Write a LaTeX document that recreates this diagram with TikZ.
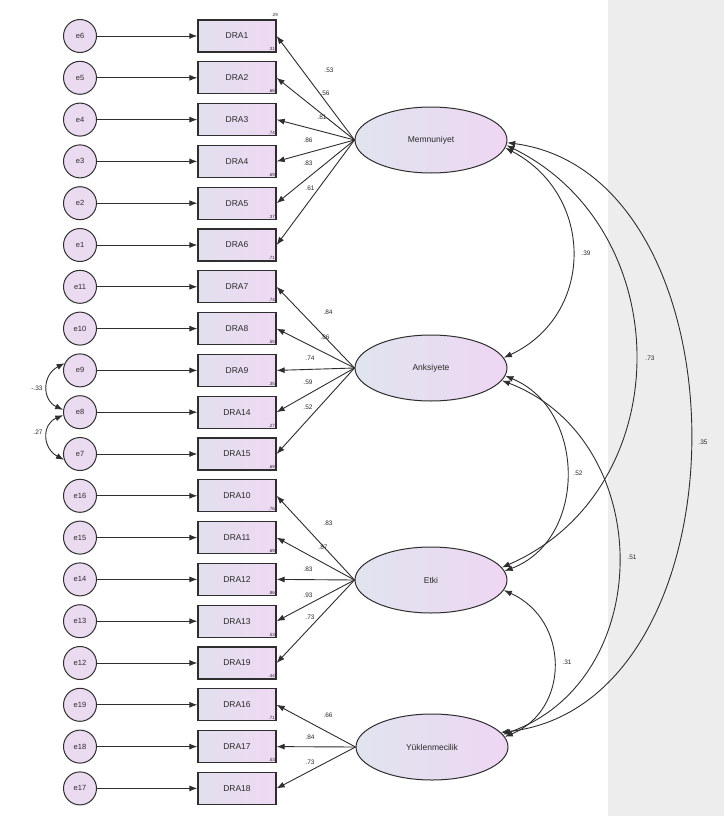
\documentclass[tikz,border=0pt]{standalone}
\usepackage{fontspec}
\setmainfont{Liberation Sans}
\usetikzlibrary{arrows.meta,shapes.geometric}
\definecolor{edgec}{HTML}{2E2E2E}
\definecolor{txt}{HTML}{2A2A2A}
\definecolor{boxL}{HTML}{E2E0EE}
\definecolor{boxR}{HTML}{EFD9F3}
\definecolor{errF}{HTML}{EBDBF1}
\definecolor{latL}{HTML}{E0E4EF}
\definecolor{latR}{HTML}{EED6F3}
\definecolor{bgGray}{HTML}{EDEDED}
\begin{document}
\begin{tikzpicture}[x=1pt,y=-1pt,
  box/.style={draw=edgec, line width=1.3pt, minimum width=78pt, minimum height=32pt, inner sep=0pt, left color=boxL, right color=boxR, font=\fontsize{8.5}{9}\selectfont, text=txt},
  err/.style={circle, draw=edgec, line width=1pt, minimum size=33pt, inner sep=0pt, fill=errF, font=\fontsize{7.5}{8}\selectfont, text=txt},
  lat/.style={ellipse, draw=edgec, line width=1pt, minimum width=152pt, minimum height=66pt, inner sep=0pt, left color=latL, right color=latR, font=\fontsize{8.5}{9}\selectfont, text=txt},
  arr/.style={draw=edgec, line width=0.9pt, -{Latex[length=8pt,width=6pt]}},
  cov/.style={draw=edgec, line width=0.9pt, {Latex[length=8pt,width=6pt]}-{Latex[length=8pt,width=6pt]}},
  lbl/.style={font=\fontsize{6.5}{7}\selectfont, inner sep=0pt, text=txt},
  rsq/.style={font=\fontsize{4.5}{5}\selectfont, inner sep=0.5pt, text=txt}]
\useasboundingbox (0,0) rectangle (724,816);
\fill[white] (0,0) rectangle (724,816);
\fill[bgGray] (608,0) rectangle (724,816);

% observed variables and their errors
\foreach \i/\e/\d in {1/e6/DRA1, 2/e5/DRA2, 3/e4/DRA3, 4/e3/DRA4, 5/e2/DRA5, 6/e1/DRA6,
  7/e11/DRA7, 8/e10/DRA8, 9/e9/DRA9, 10/e8/DRA14, 11/e7/DRA15,
  12/e16/DRA10, 13/e15/DRA11, 14/e14/DRA12, 15/e13/DRA13, 16/e12/DRA19,
  17/e19/DRA16, 18/e18/DRA17, 19/e17/DRA18}{
  \node[err] (e\i) at (80,{36+41.8*(\i-1)}) {\e};
  \node[box] (b\i) at (237,{36+41.8*(\i-1)}) {\d};
  \draw[arr] (e\i) -- (b\i);
}

% squared multiple correlations (partly hidden at box corners)
\node[rsq, anchor=south east] (r1) at ([shift={(2,-2)}]b1.north east) {.29};
\foreach \j/\v in {1/.31, 2/.66, 3/.74, 4/.69, 5/.37, 6/.71, 7/.74, 8/.55, 9/.35, 10/.27,
  11/.69, 12/.76, 13/.69, 14/.86, 15/.53, 16/.44, 17/.71, 18/.53}{
  \node[rsq, anchor=south east] (rr\j) at ([shift={(-1,-1)}]b\j.south east) {\v};
}

% latent variables
\node[lat] (M) at (431,140) {Memnuniyet};
\node[lat] (A) at (431,368) {Anksiyete};
\node[lat] (E) at (431,580) {Etki};
\node[lat] (Y) at (432,747) {Yüklenmecilik};

% loadings
\foreach \i in {1,...,6}{\draw[arr] (M.west) -- (b\i.east);}
\foreach \i in {7,...,11}{\draw[arr] (A.west) -- (b\i.east);}
\foreach \i in {12,...,16}{\draw[arr] (E.west) -- (b\i.east);}
\foreach \i in {17,18,19}{\draw[arr] (Y.west) -- (b\i.east);}

\foreach \n/\x/\y/\t in {l1/329/70/.53, l2/325/93/.56, l3/322/117/.81, l4/308/140/.86, l5/308/163/.83, l6/310/188/.61,
  l7/328/312/.84, l8/325/337/.86, l9/310/358/.74, l10/308/382/.59, l11/308/407/.52,
  l12/328/523/.83, l13/323/547/.87, l14/308/569/.83, l15/308/595/.93, l16/310/617/.73,
  l17/328/715/.66, l18/310/737/.84, l19/310/762/.73}{
  \node[lbl] (\n) at (\x,\y) {\t};
}

% covariances between latent variables
\draw[cov] (M.-6) .. controls (595,195) and (595,315) .. (A.8);
\draw[cov] (M.-4) .. controls (679,230) and (679,490) .. (E.10);
\draw[cov] (M.-2) .. controls (752,175) and (752,705) .. (Y.12);
\draw[cov] (A.-6) .. controls (587,410) and (587,540) .. (E.7);
\draw[cov] (A.-10) .. controls (657,440) and (657,680) .. (Y.10);
\draw[cov] (E.-8) .. controls (570,620) and (570,710) .. (Y.8);
\node[lbl] (c1) at (586,253) {.39};
\node[lbl] (c2) at (650,358) {.73};
\node[lbl] (c3) at (703,442) {.35};
\node[lbl] (c4) at (578,473) {.52};
\node[lbl] (c5) at (632,557) {.51};
\node[lbl] (c6) at (567,662) {.31};

% error covariances
\draw[cov] (e9.155) .. controls (42,375) and (42,400) .. (e10.172);
\draw[cov] (e10.190) .. controls (42,424) and (42,448) .. (e11.200);
\node[lbl] (c7) at (37,388) {-.33};
\node[lbl] (c8) at (38,432) {.27};
\end{tikzpicture}
\end{document}
